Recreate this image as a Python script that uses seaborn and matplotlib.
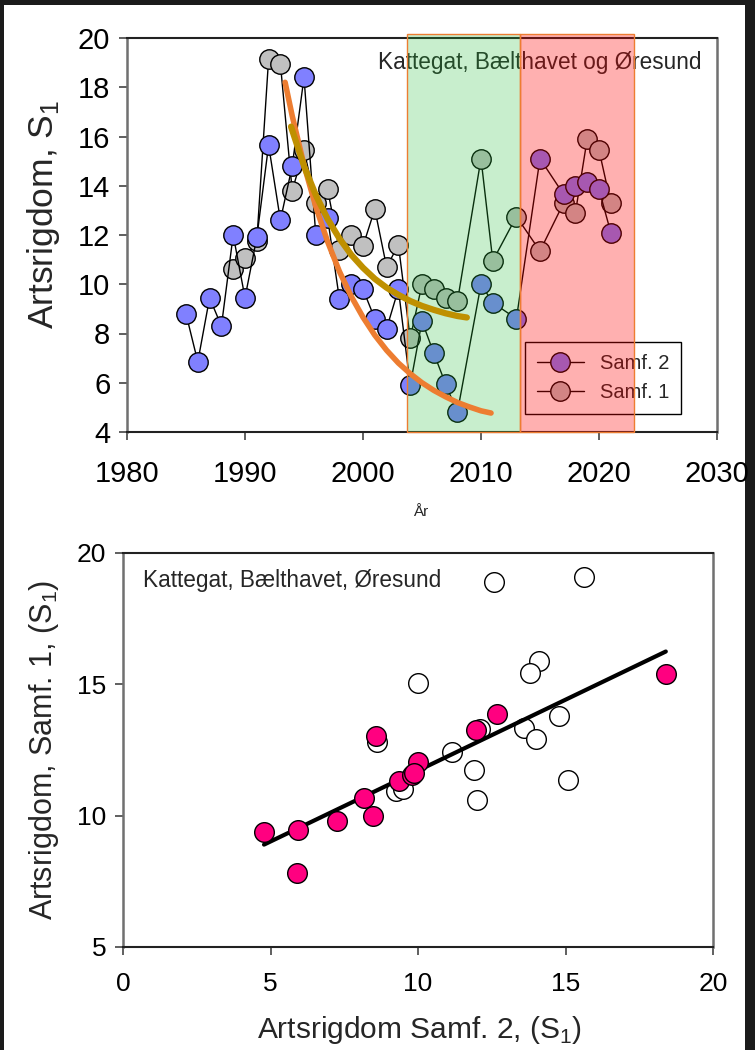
import numpy as np
import matplotlib
matplotlib.use("Agg")
import matplotlib.pyplot as plt
from matplotlib.patches import Rectangle
import seaborn as sns

# Samf. 2 (blue) and Samf. 1 (grey), species richness per year
years_s2 = [1985, 1986, 1987, 1988, 1989, 1990, 1991, 1992, 1993, 1994, 1995, 1996,
            1997, 1998, 1999, 2000, 2001, 2002, 2003, 2004, 2005, 2006, 2007, 2008,
            2010, 2011, 2013, 2015, 2017, 2018, 2019, 2020, 2021]
samf2 = [8.8, 6.85, 9.45, 8.3, 12.0, 9.45, 11.9, 15.65, 12.6, 14.8, 18.4, 12.0,
         12.7, 9.4, 10.0, 9.8, 8.6, 8.2, 9.8, 5.9, 8.5, 7.2, 5.95, 4.8,
         10.0, 9.25, 8.6, 15.1, 13.65, 14.0, 14.15, 13.85, 12.1]

years_s1 = [1989, 1990, 1991, 1992, 1993, 1994, 1995, 1996, 1997, 1998, 1999, 2000,
            2001, 2002, 2003, 2004, 2005, 2006, 2007, 2008, 2010, 2011, 2013, 2015,
            2017, 2018, 2019, 2020, 2021]
samf1 = [10.6, 11.05, 11.75, 19.15, 18.95, 13.8, 15.45, 13.3, 13.85, 11.4, 12.0, 11.55,
         13.05, 10.7, 11.6, 7.8, 10.0, 9.8, 9.45, 9.3, 15.1, 10.95, 12.75, 11.35,
         13.3, 12.9, 15.9, 15.45, 13.3]

# decline curves, points
orange_years = [1993.4, 1994, 1995, 1996, 1997, 1998, 1999, 2000, 2001, 2002, 2003,
                2004, 2005, 2006, 2007, 2008, 2009, 2010, 2010.85]
orange_vals = [18.2, 16.84, 14.84, 13.15, 11.73, 10.52, 9.51, 8.66, 7.93, 7.32, 6.8,
               6.37, 6.0, 5.69, 5.43, 5.2, 5.02, 4.86, 4.77]
gold_years = [1993.9, 1995, 1996, 1997, 1998, 1999, 2000, 2001, 2002, 2003, 2004,
              2005, 2006, 2007, 2008, 2008.8]
gold_vals = [16.4, 14.8, 13.62, 12.65, 11.86, 11.2, 10.67, 10.22, 9.86, 9.57, 9.32,
             9.12, 8.96, 8.82, 8.71, 8.65]

# shaded periods
period_green = (2003.7, 2013.3)
period_red = (2013.3, 2023.0)

# Samf. 2 vs Samf. 1 scatter
open_x = [10.0, 8.62, 12.58, 15.64, 14.11, 13.8, 14.78, 12.1, 13.6, 14.0, 11.14,
          9.25, 9.48, 11.9, 11.99, 15.1]
open_y = [15.06, 12.81, 18.9, 19.1, 15.9, 15.44, 13.8, 13.3, 13.33, 12.9, 12.43,
          10.95, 11.0, 11.74, 10.6, 11.36]
fit_x = [18.4, 11.97, 12.67, 9.37, 9.99, 9.78, 8.58, 8.18, 9.85, 5.89, 8.49, 7.24, 5.92, 4.78]
fit_y = [15.38, 13.28, 13.86, 11.33, 12.05, 11.55, 13.03, 10.69, 11.62, 7.8, 10.0, 9.81, 9.45, 9.37]

sns.set_style("ticks")
plt.rcParams["font.family"] = ["Liberation Sans", "DejaVu Sans"]

W, H = 755, 1050
fig = plt.figure(figsize=(W / 100, H / 100), dpi=100, facecolor="#1b1b1b")
fig.add_artist(Rectangle((4 / W, 0), 741 / W, 1 - 5 / H, transform=fig.transFigure,
                         facecolor="white", edgecolor="none", zorder=-1))

ax1 = fig.add_axes([127 / W, 618 / H, 590 / W, 394 / H])
ax2 = fig.add_axes([123 / W, 103 / H, 590 / W, 394 / H])

# ---- top: time series
mk = dict(marker="o", markersize=14, markeredgecolor="black", markeredgewidth=1)
sns.lineplot(x=years_s1, y=samf1, ax=ax1, color="black", lw=1, markerfacecolor="#C0C0C0",
             label="Samf. 1", zorder=3, **mk)
sns.lineplot(x=years_s2, y=samf2, ax=ax1, color="black", lw=1, markerfacecolor="#8080FF",
             label="Samf. 2", zorder=4, **mk)
# fitted curves sit above the shaded periods
sns.lineplot(x=orange_years, y=orange_vals, ax=ax1, color="#ED7D31", lw=4, zorder=8)
sns.lineplot(x=gold_years, y=gold_vals, ax=ax1, color="#BF9000", lw=4.5, zorder=8.5)

for (x0, x1), fc in [(period_green, (0.14, 0.74, 0.22, 0.25)), (period_red, (1, 0, 0, 0.31))]:
    sp = ax1.axvspan(x0, x1, ymin=0, ymax=1.01, facecolor=fc, edgecolor="#ED7D31", lw=1, zorder=7)
    sp.set_clip_on(False)

handles, labels = ax1.get_legend_handles_labels()
order = [labels.index("Samf. 2"), labels.index("Samf. 1")]
leg = ax1.legend([handles[i] for i in order], [labels[i] for i in order],
                 loc="lower left", bbox_to_anchor=(0.675, 0.046), fancybox=False,
                 edgecolor="black", framealpha=1, fontsize=14.5, handlelength=2.3,
                 borderaxespad=0, labelspacing=0.5, borderpad=0.6)
leg.set_zorder(6)
leg.get_frame().set_linewidth(1)

ax1.text(0.425, 0.939, "Kattegat, Bælthavet og Øresund", transform=ax1.transAxes,
         fontsize=16.3, ha="left", va="center", zorder=1)

ax1.set_xlim(1980, 2030)
ax1.set_ylim(4, 20)
ax1.set_xticks(range(1980, 2031, 10))
ax1.set_yticks(range(4, 21, 2))
ax1.tick_params(axis="x", labelsize=21, length=6, width=1.2, pad=14)
ax1.tick_params(axis="y", labelsize=21, length=6, width=1.2, pad=6)
ax1.set_ylabel("Artsrigdom, S$_{\\mathregular{1}}$", fontsize=25.5)
ax1.set_xlabel("År", fontsize=11)
ax1.yaxis.set_label_coords(-0.11, 0.553)
ax1.xaxis.set_label_coords(0.497, -0.185)

# ---- bottom: scatter
sns.scatterplot(x=open_x, y=open_y, ax=ax2, s=200, color="white", edgecolor="black",
                linewidth=1, zorder=3)
sns.regplot(x=fit_x, y=fit_y, ax=ax2, scatter=False, ci=None, truncate=True,
            line_kws=dict(color="black", lw=3, zorder=4))
sns.scatterplot(x=fit_x, y=fit_y, ax=ax2, s=200, color="#FF0080", edgecolor="black",
                linewidth=1, zorder=5)
ax2.text(0.034, 0.931, "Kattegat, Bælthavet, Øresund", transform=ax2.transAxes,
         fontsize=16.3, ha="left", va="center")

ax2.set_xlim(0, 20)
ax2.set_ylim(5, 20)
ax2.set_xticks(range(0, 21, 5))
ax2.set_yticks(range(5, 21, 5))
ax2.tick_params(axis="x", labelsize=19, length=6, width=1.2, pad=12)
ax2.tick_params(axis="y", labelsize=19, length=6, width=1.2, pad=6)
ax2.set_ylabel("Artsrigdom, Samf. 1, (S$_{\\mathregular{1}}$)", fontsize=22)
ax2.set_xlabel("Artsrigdom Samf. 2, (S$_{\\mathregular{1}}$)", fontsize=21.5)
ax2.yaxis.set_label_coords(-0.105, 0.5)
ax2.xaxis.set_label_coords(0.503, -0.17)

for ax in (ax1, ax2):
    for side in ("left", "right"):
        ax.spines[side].set_color("#707070")
        ax.spines[side].set_linewidth(1.8)
    for side in ("top", "bottom"):
        ax.spines[side].set_color("#222222")
        ax.spines[side].set_linewidth(1.5)
    ax.tick_params(colors="#444444", labelcolor="black")

fig.savefig("out.png", dpi=100, facecolor=fig.get_facecolor())
